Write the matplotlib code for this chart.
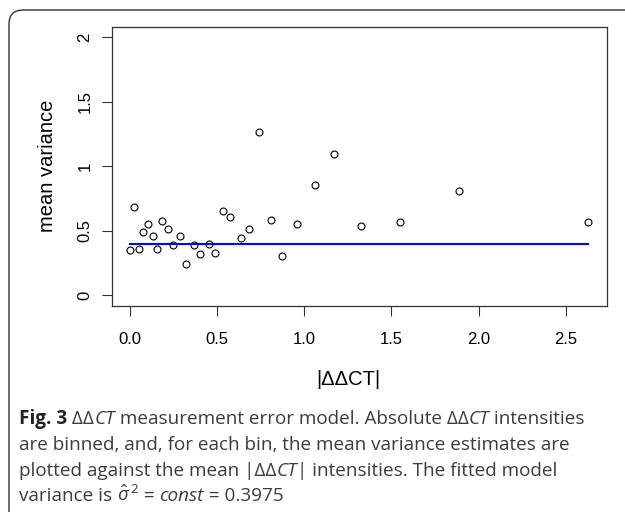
import numpy as np
import matplotlib
matplotlib.use("Agg")
import matplotlib.pyplot as plt
from matplotlib.patches import FancyBboxPatch

# binned |ddCT| means and mean variance per bin
abs_ddct = [0.000, 0.025, 0.050, 0.075, 0.101, 0.130, 0.156, 0.185, 0.217, 0.247,
            0.286, 0.323, 0.366, 0.403, 0.451, 0.489, 0.533, 0.576, 0.638, 0.684,
            0.739, 0.807, 0.874, 0.961, 1.061, 1.171, 1.327, 1.551, 1.887, 2.630]
mean_var = [0.349, 0.684, 0.357, 0.492, 0.552, 0.458, 0.357, 0.575, 0.515, 0.388,
            0.458, 0.242, 0.388, 0.323, 0.401, 0.331, 0.651, 0.607, 0.448, 0.515,
            1.264, 0.583, 0.305, 0.549, 0.851, 1.098, 0.539, 0.565, 0.809, 0.565]
fitted_const = 0.3975

x_ticks = [0.0, 0.5, 1.0, 1.5, 2.0, 2.5]
x_ticklabels = ["0.0", "0.5", "1.0", "1.5", "2.0", "2.5"]
y_ticks = [0, 0.5, 1, 1.5, 2]
y_ticklabels = ["0", "0.5", "1", "1.5", "2"]

# caption: each line is a list of (text, style) pieces
# style: "b" bold, "i" italic, "r" regular
caption_lines = [
    [("Fig. 3", "b"), (" ΔΔ", "r"), ("CT", "i"),
     (" measurement error model. Absolute ΔΔ", "r"), ("CT", "i"), (" intensities", "r")],
    [("are binned, and, for each bin, the mean variance estimates are", "r")],
    [("plotted against the mean |ΔΔ", "r"), ("CT", "i"),
     ("| intensities. The fitted model", "r")],
    [("variance is ", "r"), (r"$\hat{\sigma}^{\,2}$", "r"), (" = ", "r"),
     ("const", "i"), (" = 0.3975", "r")],
]

plt.rcParams["font.family"] = ["Liberation Sans", "DejaVu Sans"]
plt.rcParams["mathtext.fontset"] = "custom"
plt.rcParams["mathtext.rm"] = "Open Sans"
plt.rcParams["mathtext.it"] = "Open Sans:italic"
plt.rcParams["mathtext.bf"] = "Open Sans:bold"

W, H = 625, 512
fig = plt.figure(figsize=(W / 100, H / 100), dpi=100)
renderer = fig.canvas.get_renderer()

# frame + caption layer in pixel coordinates
bg = fig.add_axes([0, 0, 1, 1])
bg.set_xlim(0, W)
bg.set_ylim(H, 0)
bg.axis("off")
frame = FancyBboxPatch((9, 10), 700, 600, boxstyle="round,pad=0,rounding_size=14",
                       facecolor="none", edgecolor="#333333", linewidth=1.0)
bg.add_patch(frame)

styles = {
    "r": dict(fontweight="normal", fontstyle="normal", color="#3c3c3c"),
    "i": dict(fontweight="normal", fontstyle="italic", color="#3c3c3c"),
    "b": dict(fontweight="bold", fontstyle="normal", color="#222222"),
}
baselines = [424, 450, 475.5, 501]
for pieces, yb in zip(caption_lines, baselines):
    x = 19
    for txt, st in pieces:
        t = bg.text(x, yb, txt, fontsize=13.6, family="Open Sans",
                    ha="left", va="baseline", **styles[st])
        x += t.get_window_extent(renderer).width

# main scatter plot
ax = fig.add_axes([111.7 / W, 1 - 305.7 / H, 495 / W, 279 / H])
ax.plot(abs_ddct, mean_var, linestyle="none", marker="o", markersize=5,
        markerfacecolor="none", markeredgecolor="black", markeredgewidth=0.8)
ax.plot([min(abs_ddct), max(abs_ddct)], [fitted_const, fitted_const],
        color="#0000ff", linewidth=1.5)

ax.set_xlim(-0.105, 2.735)
ax.set_ylim(-0.08, 2.08)
ax.set_xticks(x_ticks)
ax.set_xticklabels(x_ticklabels)
ax.set_yticks(y_ticks)
ax.set_yticklabels(y_ticklabels, rotation=90, va="center")
ax.tick_params(axis="both", direction="out", length=7, width=0.8, labelsize=12,
               color="#333333")
ax.tick_params(axis="x", pad=12)
ax.tick_params(axis="y", pad=7)
for sp in ax.spines.values():
    sp.set_color("#333333")
    sp.set_linewidth(0.9)

ax.set_xlabel("|ΔΔCT|", fontsize=14.5)
ax.xaxis.set_label_coords(0.477, -0.266)
ax.xaxis.label.set_va("center")
ax.set_ylabel("mean variance", fontsize=14.5)
ax.yaxis.set_label_coords(-0.1287, 0.5)
ax.yaxis.label.set_va("center")

fig.savefig("out.png", dpi=100)
